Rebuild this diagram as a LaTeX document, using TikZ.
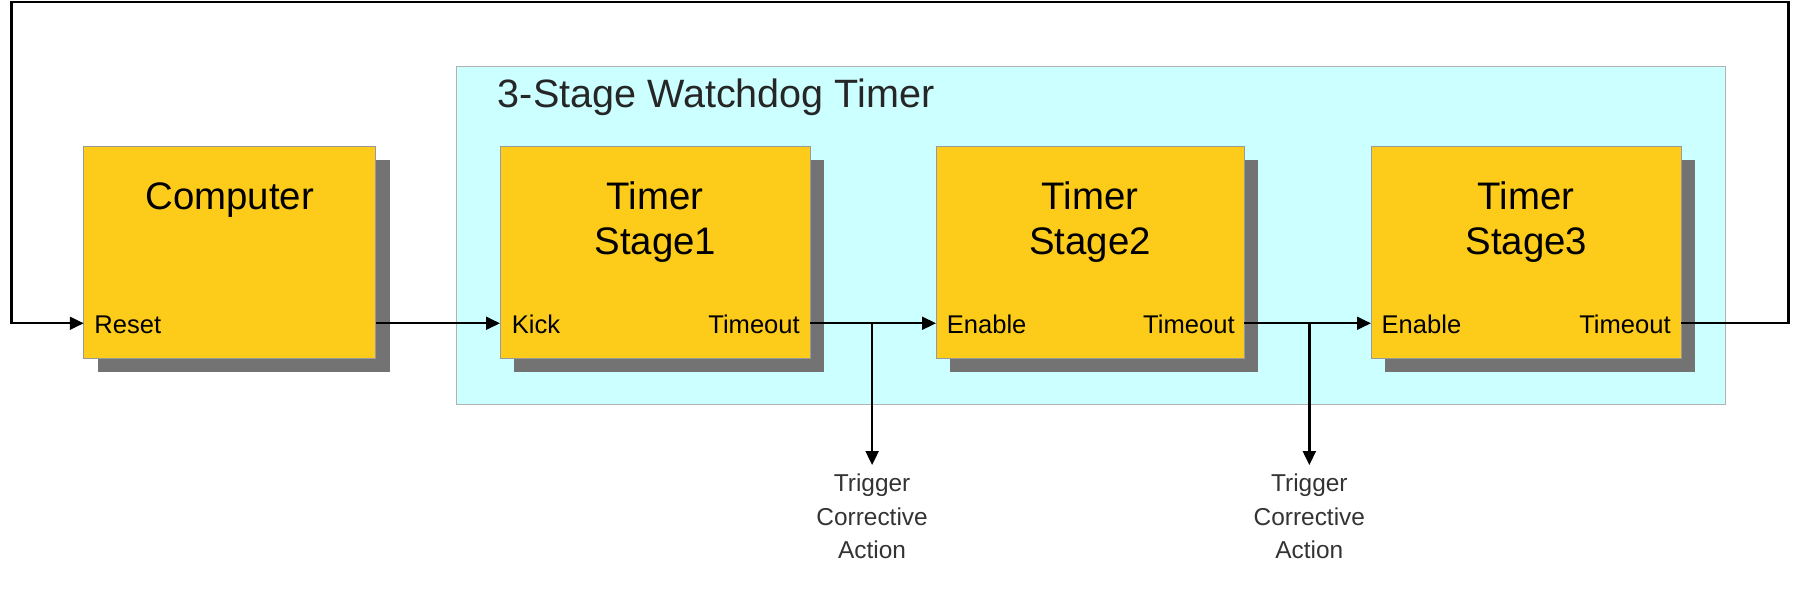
\documentclass[tikz,border=0pt]{standalone}
\usepackage{fontspec}
\setmainfont{Liberation Sans}
\usetikzlibrary{arrows.meta}
\definecolor{boxy}{HTML}{FDCB1A}
\definecolor{cyanbg}{HTML}{CCFFFF}
\begin{document}
\begin{tikzpicture}[x=1pt,y=-1pt,
  blk/.style={draw=black!40,fill=boxy},
  shd/.style={fill=black!55},
  lbl/.style={font=\fontsize{22}{24}\selectfont,inner sep=0pt},
  ttl/.style={font=\fontsize{33}{40}\selectfont,align=center,inner sep=0pt},
  sig/.style={line width=2pt,-{Triangle[length=12pt,width=11pt]}},
  note/.style={font=\fontsize{21}{29}\selectfont,align=center,text=black!80,inner sep=0pt}]
\useasboundingbox (0,0) rectangle (1560,518);
% container
\filldraw[fill=cyanbg,draw=black!30] (392,57) rectangle (1484,348);
\node[anchor=west,font=\fontsize{34}{40}\selectfont,text=black!85,inner sep=0pt] (title) at (428,84) {3-Stage Watchdog Timer};
% boxes
\foreach \n/\xa/\xb in {comp/72/323,s1/430/697,s2/805/1070,s3/1179/1446}{
  \fill[shd] (\xa+12,138) rectangle (\xb+12,320);
  \filldraw[blk] (\xa,126) rectangle (\xb,308);
  \coordinate (\n-in) at (\xa,278);
  \coordinate (\n-out) at (\xb,278);
}
\node[ttl] (tc) at (197.5,172) {Computer};
\node[ttl] (t1) at (563.5,191) {Timer\\[-2pt]Stage1};
\node[ttl] (t2) at (937.5,191) {Timer\\[-2pt]Stage2};
\node[ttl] (t3) at (1312.5,191) {Timer\\[-2pt]Stage3};
\node[lbl,anchor=west] (lr) at (81,279) {Reset};
\node[lbl,anchor=west] (lk) at (440,279) {Kick};
\node[lbl,anchor=east] (lt1) at (688,279) {Timeout};
\node[lbl,anchor=west] (le2) at (814,279) {Enable};
\node[lbl,anchor=east] (lt2) at (1062,279) {Timeout};
\node[lbl,anchor=west] (le3) at (1188,279) {Enable};
\node[lbl,anchor=east] (lt3) at (1437,279) {Timeout};
% connectors
\coordinate (c1) at (1538,278); \coordinate (c2) at (1538,2);
\coordinate (c3) at (10,2); \coordinate (c4) at (10,278);
\draw[sig] (s3-out) -- (c1) -- (c2) -- (c3) -- (c4) -- (comp-in);
\draw[sig] (comp-out) -- (s1-in);
\draw[sig] (s1-out) -- (s2-in);
\draw[sig] (s2-out) -- (s3-in);
\coordinate (b1) at (750,278); \coordinate (b2) at (1126,278);
\node[note] (n1) at (750,444) {Trigger\\Corrective\\Action};
\node[note] (n2) at (1126,444) {Trigger\\Corrective\\Action};
\coordinate (e1) at (750,400); \coordinate (e2) at (1126,400);
\draw[sig] (b1) -- (e1);
\draw[sig] (b2) -- (e2);
\end{tikzpicture}
\end{document}
